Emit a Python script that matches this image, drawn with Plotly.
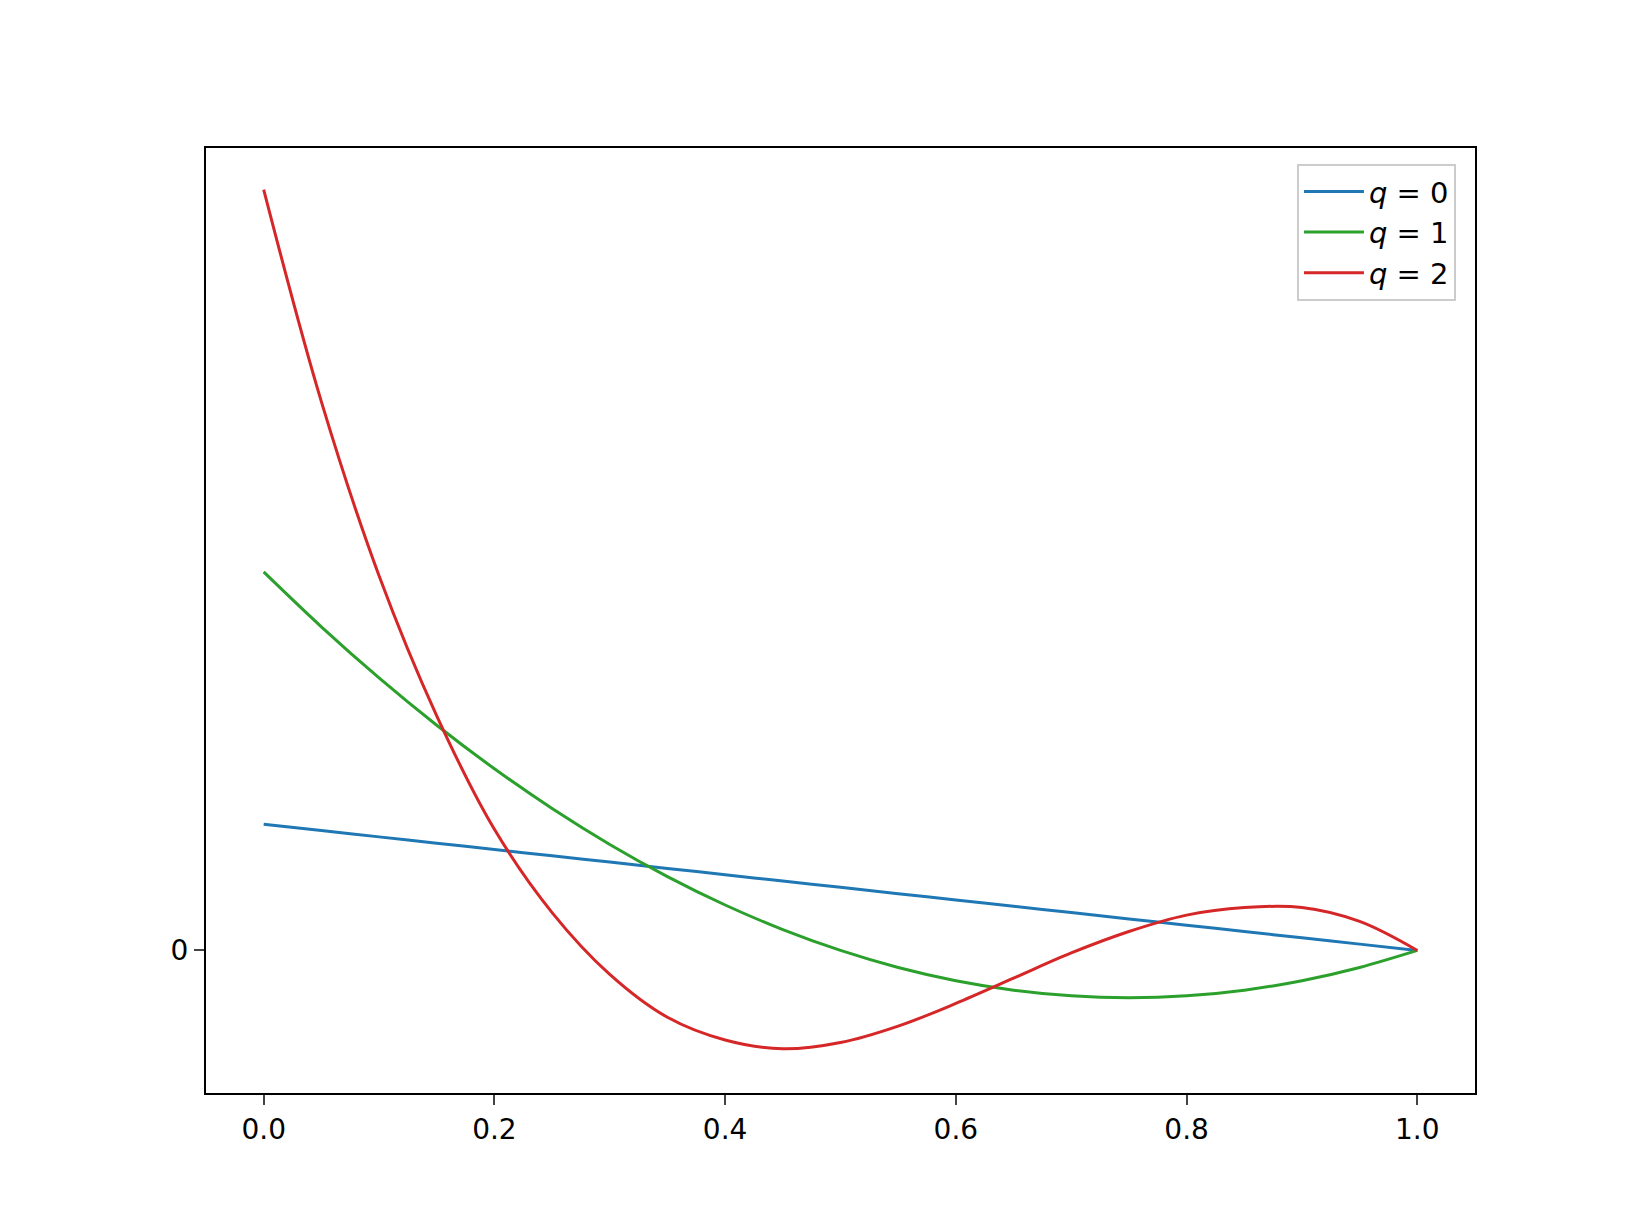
import plotly.graph_objects as go

x = [round(i*0.05, 2) for i in range(21)]
q0 = [1.0,0.95,0.9,0.85,0.8,0.75,0.7,0.65,0.6,0.55,0.5,0.45,0.4,0.35,0.3,0.25,0.2,0.15,0.1,0.05,0.0]
q1 = [3.0,2.565,2.16,1.785,1.44,1.125,0.84,0.585,0.36,0.165,0.0,-0.135,-0.24,-0.315,-0.36,-0.375,-0.36,-0.315,-0.24,-0.135,0.0]
q2 = [6.03,4.35,2.97,1.86,0.96,0.30,-0.19,-0.53,-0.71,-0.78,-0.73,-0.60,-0.42,-0.22,-0.02,0.15,0.28,0.34,0.34,0.23,0.0]
names = ["<i>q</i> = 0", "<i>q</i> = 1", "<i>q</i> = 2"]
colors = ["#1f77b4", "#2ca02c", "#d62728"]

fig = go.Figure()
for ys, n, c in zip([q0, q1, q2], names, colors):
    fig.add_trace(go.Scatter(x=x, y=ys, mode="lines", name=n,
                             line=dict(color=c, width=3, shape="spline", smoothing=1.0)))
fig.update_layout(
    width=1638, height=1228, plot_bgcolor="white", paper_bgcolor="white",
    margin=dict(l=198, r=171, t=140, b=143),
    font=dict(family="DejaVu Sans", size=28, color="black"),
    legend=dict(x=0.985, y=0.983, xanchor="right", yanchor="top",
                bordercolor="#cccccc", borderwidth=2, bgcolor="rgba(255,255,255,0.8)",
                font=dict(size=29), itemwidth=60, tracegroupgap=8),
)
fig.update_xaxes(range=[-0.05, 1.05], tickvals=[0,0.2,0.4,0.6,0.8,1.0],
                 ticktext=["0.0","0.2","0.4","0.6","0.8","1.0"],
                 ticks="outside", ticklen=10, tickwidth=2, showgrid=False, zeroline=False,
                 showline=True, linecolor="black", mirror=True, linewidth=2)
fig.update_yaxes(range=[-1.13, 6.36], tickvals=[0], ticktext=["0"],
                 ticks="outside", ticklen=10, tickwidth=2, showgrid=False, zeroline=False,
                 showline=True, linecolor="black", mirror=True, linewidth=2)
fig.write_html("out.html")
